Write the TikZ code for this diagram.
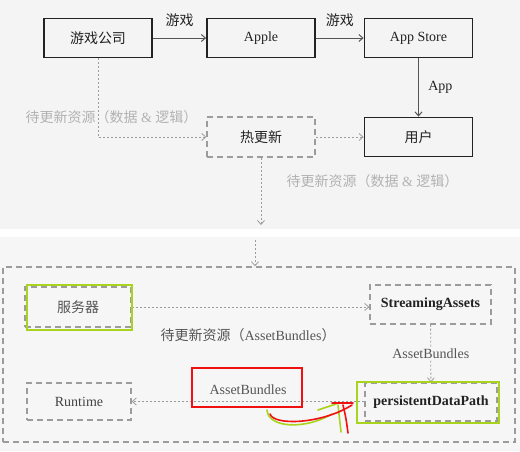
\documentclass[tikz,border=0pt]{standalone}
\usepackage{fontspec}
\setmainfont{Liberation Serif}
\newfontfamily\cjk{Noto Sans CJK SC}
\usetikzlibrary{arrows.meta}
\newcommand{\zh}[1]{{\cjk #1}}
\definecolor{ink}{HTML}{222222}
\definecolor{soft}{HTML}{9C9C9C}
\definecolor{paleink}{HTML}{B2B2B2}
\definecolor{midink}{HTML}{555555}
\definecolor{bgtop}{HTML}{F4F4F4}
\definecolor{bgbot}{HTML}{F6F6F6}
\definecolor{hlgreen}{HTML}{A8D41E}
\definecolor{hlred}{HTML}{F01010}

\begin{document}
\begin{tikzpicture}[x=1pt,y=-1pt,font=\fontsize{14}{16}\selectfont,
	>={Straight Barb[length=4pt,width=7pt]},
	box/.style={draw=ink,line width=1.8pt,minimum width=108pt,minimum height=39pt,text=ink},
	dbox/.style={draw=soft,line width=1.4pt,dash pattern=on 6pt off 4pt,text=#1},
	dbox/.default=midink,
	flow/.style={->,draw=soft,line width=0.8pt,dash pattern=on 2pt off 2pt},
	solid flow/.style={->,draw=midink,line width=1pt},
	hl/.style={draw=#1,line width=1.6pt}]
	\useasboundingbox (0,0) rectangle (520,451);
	% backgrounds
	\fill[bgtop] (0,0) rectangle (520,229);
	\fill[bgbot] (0,237) rectangle (520,451);

	% upper boxes
	\node[box] (company) at (98,38) {\zh{游戏公司}};
	\node[box] (apple) at (261,38) {Apple};
	\node[box] (store) at (418.5,38) {App Store};
	\node[box] (user) at (418.5,137) {\zh{用户}};
	\node[dbox=ink,minimum width=108pt,minimum height=40pt] (hot) at (261,137) {\zh{热更新}};
	% upper arrows
	\draw[solid flow] (company) -- node[above=7pt,text=ink] (gameA) {\zh{游戏}} (apple);
	\draw[solid flow] (apple) -- node[above=7pt,text=ink] (gameB) {\zh{游戏}} (store);
	\draw[solid flow] (store) -- node[right=6pt,text=ink] (app) {App} (user);
	\draw[flow] (company.south) |- (hot.west);
	\draw[flow] (hot) -- (user);
	\coordinate (hotout) at (261,225);
	\draw[flow] (hot.south) -- (hotout);
	% grey labels
	\node[text=paleink] (resA) at (111.5,117) {\zh{待更新资源（数据} \& \zh{逻辑）}};
	\node[text=paleink] (resB) at (372.5,181) {\zh{待更新资源（数据} \& \zh{逻辑）}};

	% lower frame
	\node[dbox,minimum width=512pt,minimum height=175pt] (frame) at (259,354.5) {};
	\coordinate (botin) at (255,240);
	\draw[flow] (botin) -- (botin |- frame.north);
	% lower boxes
	\node[dbox,minimum width=106pt,minimum height=40pt] (server) at (78,307) {\zh{服务器}};
	\node[dbox=ink,minimum width=121pt,minimum height=39pt,font=\fontsize{14}{16}\selectfont\bfseries] (stream) at (430.5,304.5) {StreamingAssets};
	\node[dbox=ink,minimum width=132pt,minimum height=38pt,font=\fontsize{14}{16}\selectfont\bfseries] (persist) at (431,402) {persistentDataPath};
	\node[dbox=ink!85,minimum width=104pt,minimum height=37pt] (runtime) at (79,401.5) {Runtime};
	% lower arrows
	\draw[flow] (server.east) -- (server.east -| stream.west);
	\draw[flow] (stream) -- node[fill=bgbot,text=midink,inner sep=1pt] (abA) {AssetBundles} (persist);
	\draw[flow] (persist.west |- runtime.east) -- node[above=3pt,text=midink] (abB) {AssetBundles} (runtime.east);
	\node[text=midink] (resC) at (248,335) {\zh{待更新资源（}AssetBundles\zh{）}};

	% marks
	\draw[hl=hlgreen] (27,285) rectangle (132,330);
	\draw[hl=hlgreen] (357,382) rectangle (499,423);
	\draw[hl=hlred] (192,368) rectangle (302,407);
	\draw[hl=hlgreen,line cap=round] (267,410) .. controls (268,428) and (305,430) .. (332,414);
	\draw[hl=hlgreen,line cap=round] (318,410) -- (336,404);
	\draw[hl=hlgreen,line cap=round] (338,405) .. controls (340,418) .. (341,432);
	\draw[hl=hlred,line cap=round] (270,414) .. controls (274,426) and (322,424) .. (352,405);
	\draw[hl=hlred,line cap=round] (332,403) -- (353,403);
	\draw[hl=hlred,line cap=round] (343,405) .. controls (346,418) .. (348,433);
\end{tikzpicture}
\end{document}
